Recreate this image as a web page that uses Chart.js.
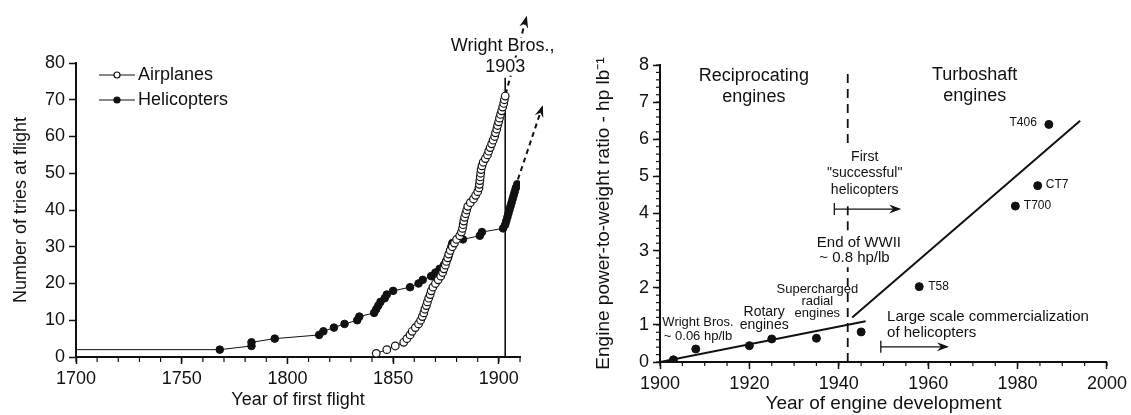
<!DOCTYPE html>
<html>
<head>
<meta charset="utf-8">
<title>Attempts at flight and engine power-to-weight ratio</title>
<script src="https://cdn.jsdelivr.net/npm/chart.js@4.4.1/dist/chart.umd.min.js"></script>
<style>
  html, body { margin: 0; padding: 0; background: #fff; }
  #wrap { position: relative; width: 1131px; height: 415px; }
  #tries { position: absolute; left: 0; top: 0; }
  #engines { position: absolute; left: 560px; top: 0; }
</style>
</head>
<body>
<div id="wrap">
  <canvas id="tries" width="560" height="415"></canvas>
  <canvas id="engines" width="571" height="415"></canvas>
</div>
<script>
const INK = '#111';
const FONT = "'Liberation Sans', Arial, Helvetica, sans-serif";
Chart.defaults.font.family = FONT;
Chart.defaults.color = INK;

// --- left panel: cumulative tries at flight ---
const planeYears = [1842, 1847, 1851, 1855, 1856.5, 1858, 1859, 1860.5, 1862, 1863,
  1863.8, 1864.5, 1865, 1865.7, 1866.2, 1866.8, 1867.5, 1868, 1868.8, 1870,
  1871.3, 1872.5, 1873.4, 1874, 1874.7, 1875.2, 1875.8, 1876.3, 1877, 1878,
  1879, 1880, 1881.5, 1882.3, 1882.8, 1883.1, 1883.4, 1883.8, 1884.3, 1884.8,
  1885.3, 1886.5, 1888, 1889, 1890, 1890.6, 1890.8, 1891, 1891.2, 1891.4,
  1891.6, 1892, 1892.6, 1893.6, 1894.6, 1895.2, 1895.9, 1896.6, 1897.3, 1898,
  1898.4, 1899, 1899.4, 1899.9, 1900.3, 1900.8, 1901.3, 1901.8, 1902.3, 1902.6, 1903];
const planeTries = [1, 2, 3, 4, 5, 6, 7, 8, 9, 10,
  11, 12, 13, 14, 15, 16, 17, 18, 19, 20,
  21, 22, 23, 24, 25, 26, 27, 28, 29, 30,
  31, 32, 33, 34, 35, 36, 37, 38, 39, 40,
  41, 42, 43, 44, 45, 46, 47, 48, 49, 50,
  51, 52, 53, 54, 55, 56, 57, 58, 59, 60,
  61, 62, 63, 64, 65, 66, 67, 68, 69, 70, 71];
const heliYears = [1700, 1768, 1783, 1783, 1794, 1815, 1817, 1822, 1827, 1833,
  1834, 1841, 1842, 1843, 1844, 1846, 1847, 1850, 1858, 1862,
  1864, 1868, 1870, 1872, 1874, 1875, 1876, 1876.5, 1877, 1877.5,
  1878, 1883, 1891, 1892, 1902, 1903, 1903.5, 1904, 1904.5, 1905,
  1905.5, 1906, 1906.5, 1907, 1907.5, 1908, 1908.7];
const heliTries = [2, 2, 3, 4, 5, 6, 7, 8, 9, 10,
  11, 12, 13, 14, 15, 16, 17, 18, 19, 20,
  21, 22, 23, 24, 25, 26, 27, 28, 29, 30,
  31, 32, 33, 34, 35, 36, 37, 38, 39, 40,
  41, 42, 43, 44, 45, 46, 47];
const planeTrendYears = [1903.2, 1913];
const planeTrendTries = [71.5, 92.3];
const heliTrendYears = [1909, 1920.5];
const heliTrendTries = [48.3, 68];
const wrightYears = [1903, 1903];
const wrightTries = [0, 76];
const flightYearLabels = [1700, 1750, 1800, 1850, 1900];
const triesLabels = [0, 10, 20, 30, 40, 50, 60, 70, 80];

// --- right panel: engine power-to-weight ratio ---
const engineYears = [1903, 1908, 1920, 1925, 1935, 1945, 1958, 1979.5, 1984.5, 1987];
const engineRatio = [0.06, 0.35, 0.44, 0.62, 0.64, 0.81, 2.03, 4.2, 4.75, 6.4];
const pistonFitYears = [1900, 1946];
const pistonFitRatio = [0, 1.1];
const turbineFitYears = [1943, 1994];
const turbineFitRatio = [1.2, 6.5];
const wwiiYears = [1942, 1942, null, 1942, 1942, null, 1942, 1942];
const wwiiRatio = [0, 2.55, null, 3.55, 4.35, null, 5.9, 7.9];
const firstHeliYears = [1939, 1953.5];
const firstHeliRatio = [4.12, 4.12];
const commercialYears = [1949.4, 1964.2];
const commercialRatio = [0.41, 0.41];
const devYearLabels = [1900, 1920, 1940, 1960, 1980, 2000];
const ratioLabels = [0, 1, 2, 3, 4, 5, 6, 7, 8];

const pts = (xs, ys) => xs.map((x, i) => ({ x: x === null ? 1942 : x, y: ys[i] }));

// small unlabeled ticks between the labelled ones
const minorTicks = {
  id: 'minorTicks',
  afterDraw(chart, args, opts) {
    const { ctx } = chart;
    ctx.save();
    ctx.strokeStyle = INK;
    ctx.lineWidth = 1.2;
    for (const id of ['x', 'y']) {
      const step = opts[id];
      if (!step) continue;
      const s = chart.scales[id];
      const n = Math.round((s.max - s.min) / step);
      for (let i = 0; i <= n; i++) {
        const p = s.getPixelForValue(s.min + i * step);
        ctx.beginPath();
        if (id === 'x') { ctx.moveTo(p, s.top); ctx.lineTo(p, s.top + opts.len); }
        else { ctx.moveTo(s.right, p); ctx.lineTo(s.right - opts.len, p); }
        ctx.stroke();
      }
    }
    ctx.restore();
  }
};

const arrowHeads = {
  id: 'arrowHeads',
  afterDatasetsDraw(chart) {
    const { ctx } = chart;
    chart.data.datasets.forEach((ds, i) => {
      if (!ds.arrow) return;
      const el = chart.getDatasetMeta(i).data;
      const a = el[el.length - 2], b = el[el.length - 1];
      const ang = Math.atan2(b.y - a.y, b.x - a.x);
      ctx.save();
      ctx.translate(b.x, b.y);
      ctx.rotate(ang);
      ctx.fillStyle = INK;
      ctx.beginPath();
      ctx.moveTo(2, 0); ctx.lineTo(-10, -4.5); ctx.lineTo(-6, 0); ctx.lineTo(-10, 4.5);
      ctx.closePath();
      ctx.fill();
      ctx.restore();
    });
  }
};

const notes = {
  id: 'notes',
  afterDatasetsDraw(chart, args, opts) {
    const { ctx, scales: { x, y } } = chart;
    ctx.save();
    ctx.textBaseline = 'middle';
    for (const n of opts.items || []) {
      const px = x.getPixelForValue(n.x), py = y.getPixelForValue(n.y);
      ctx.font = `${n.size}px ${FONT}`;
      ctx.textAlign = n.align || 'center';
      if (n.mask) {
        const w = ctx.measureText(n.t).width;
        const left = n.align === 'left' ? px : n.align === 'right' ? px - w : px - w / 2;
        ctx.fillStyle = '#fff';
        ctx.fillRect(left - 2, py - n.size * 0.5, w + 4, n.size * 1.0);
      }
      ctx.fillStyle = INK;
      ctx.fillText(n.t, px, py);
    }
    ctx.restore();
  }
};

const triesLegend = {
  id: 'triesLegend',
  afterDraw(chart) {
    const { ctx, chartArea: a } = chart;
    [0, 1].forEach(i => {
      const ds = chart.data.datasets[i];
      const y = a.top + 12 + i * 25;
      ctx.save();
      ctx.strokeStyle = INK;
      ctx.lineWidth = 1;
      ctx.beginPath(); ctx.moveTo(a.left + 23, y); ctx.lineTo(a.left + 59, y); ctx.stroke();
      ctx.beginPath(); ctx.arc(a.left + 41, y, 3, 0, Math.PI * 2);
      ctx.fillStyle = ds.pointBackgroundColor; ctx.fill();
      ctx.lineWidth = 1.2; ctx.stroke();
      ctx.font = `18px ${FONT}`;
      ctx.fillStyle = INK; ctx.textAlign = 'left'; ctx.textBaseline = 'middle';
      ctx.fillText(ds.label, a.left + 62, y);
      ctx.restore();
    });
  }
};

const axisCommon = {
  ticks: { font: { size: 18 }, padding: 4, maxRotation: 0, autoSkip: false, callback: v => String(v) },
  grid: { drawOnChartArea: false, tickLength: 7, tickWidth: 1.5, tickColor: INK },
  border: { color: INK, width: 2 }
};

new Chart(document.getElementById('tries'), {
  type: 'scatter',
  data: {
    datasets: [
      { label: 'Airplanes', data: pts(planeYears, planeTries), showLine: true,
        borderColor: INK, borderWidth: 1, pointRadius: 3.8, pointBorderWidth: 1.2,
        pointBorderColor: INK, pointBackgroundColor: '#fff' },
      { label: 'Helicopters', data: pts(heliYears, heliTries), showLine: true,
        borderColor: INK, borderWidth: 1, pointRadius: c => c.dataIndex === 0 ? 0 : 3.8,
        pointBorderWidth: 1, pointBorderColor: INK, pointBackgroundColor: INK },
      { data: pts(wrightYears, wrightTries), showLine: true, borderColor: INK, borderWidth: 1.6, pointRadius: 0 },
      { data: pts(planeTrendYears, planeTrendTries), showLine: true, arrow: true, clip: false,
        borderColor: INK, borderWidth: 2, borderDash: [5, 4], pointRadius: 0 },
      { data: pts(heliTrendYears, heliTrendTries), showLine: true, arrow: true, clip: false,
        borderColor: INK, borderWidth: 2, borderDash: [5, 4], pointRadius: 0 }
    ]
  },
  options: {
    responsive: false, animation: false,
    layout: { padding: { top: 63, right: 40, left: 10, bottom: 4 } },
    plugins: {
      legend: { display: false }, tooltip: { enabled: false },
      minorTicks: { x: 10, len: 5 },
      notes: { items: [
        { t: 'Wright Bros.,', x: 1901.8, y: 84.5, size: 18, mask: true },
        { t: '1903', x: 1903, y: 79, size: 18, mask: true }
      ] }
    },
    scales: {
      x: { ...axisCommon, type: 'linear', min: 1700, max: 1910,
        afterBuildTicks: s => { s.ticks = flightYearLabels.map(v => ({ value: v })); },
        afterFit: s => { s.height = 54; },
        title: { display: true, text: 'Year of first flight', font: { size: 18 }, padding: 0 } },
      y: { ...axisCommon, min: 0, max: 80,
        afterBuildTicks: s => { s.ticks = triesLabels.map(v => ({ value: v })); },
        afterFit: s => { s.width = 66; },
        title: { display: true, text: 'Number of tries at flight', font: { size: 18 }, padding: 0 } }
    }
  },
  plugins: [minorTicks, arrowHeads, notes, triesLegend]
});

new Chart(document.getElementById('engines'), {
  type: 'scatter',
  data: {
    datasets: [
      { data: pts(engineYears, engineRatio), pointRadius: 4, pointBackgroundColor: INK, pointBorderColor: INK },
      { data: pts(pistonFitYears, pistonFitRatio), showLine: true, borderColor: INK, borderWidth: 2, pointRadius: 0 },
      { data: pts(turbineFitYears, turbineFitRatio), showLine: true, borderColor: INK, borderWidth: 2, pointRadius: 0 },
      { data: pts(wwiiYears, wwiiRatio), showLine: true, spanGaps: false, borderColor: INK, borderWidth: 1.8,
        borderDash: [9, 6], pointRadius: 0 },
      { data: pts(firstHeliYears, firstHeliRatio), showLine: true, arrow: true, borderColor: INK, borderWidth: 1.3,
        pointStyle: 'line', pointRotation: 90, pointRadius: c => c.dataIndex === 0 ? 6 : 0,
        pointBorderWidth: 1.3, pointBorderColor: INK },
      { data: pts(commercialYears, commercialRatio), showLine: true, arrow: true, borderColor: INK, borderWidth: 1.3,
        pointStyle: 'line', pointRotation: 90, pointRadius: c => c.dataIndex === 0 ? 6 : 0,
        pointBorderWidth: 1.3, pointBorderColor: INK }
    ]
  },
  options: {
    responsive: false, animation: false,
    layout: { padding: { top: 65, right: 19, left: 32, bottom: 0 } },
    plugins: {
      legend: { display: false }, tooltip: { enabled: false },
      minorTicks: { x: 5, y: 0.2, len: 4 },
      notes: { items: [
        { t: 'Reciprocating', x: 1921, y: 7.71, size: 18 },
        { t: 'engines', x: 1921, y: 7.14, size: 18 },
        { t: 'Turboshaft', x: 1970.4, y: 7.74, size: 18 },
        { t: 'engines', x: 1970.4, y: 7.17, size: 18 },
        { t: 'First', x: 1945.8, y: 5.53, size: 14 },
        { t: '"successful"', x: 1945.8, y: 5.09, size: 14 },
        { t: 'helicopters', x: 1945.8, y: 4.64, size: 14 },
        { t: 'End of WWII', x: 1944.5, y: 3.21, size: 15 },
        { t: '~ 0.8 hp/lb', x: 1943.5, y: 2.8, size: 15 },
        { t: 'Supercharged', x: 1935.2, y: 1.96, size: 13 },
        { t: 'radial', x: 1935.2, y: 1.63, size: 13 },
        { t: 'engines', x: 1935.2, y: 1.31, size: 13 },
        { t: 'Rotary', x: 1923.3, y: 1.33, size: 14 },
        { t: 'engines', x: 1923.3, y: 0.99, size: 14 },
        { t: 'Wright Bros.', x: 1908.5, y: 1.06, size: 13 },
        { t: '~ 0.06 hp/lb', x: 1908.5, y: 0.69, size: 13 },
        { t: 'Large scale commercialization', x: 1950.8, y: 1.22, size: 15, align: 'left' },
        { t: 'of helicopters', x: 1950.8, y: 0.78, size: 15, align: 'left' },
        { t: 'T406', x: 1984.3, y: 6.45, size: 12, align: 'right' },
        { t: 'CT7', x: 1986.3, y: 4.77, size: 12, align: 'left' },
        { t: 'T700', x: 1981.4, y: 4.2, size: 12, align: 'left' },
        { t: 'T58', x: 1960, y: 2.03, size: 12, align: 'left' }
      ] }
    },
    scales: {
      x: { ...axisCommon, type: 'linear', min: 1900, max: 2000,
        afterBuildTicks: s => { s.ticks = devYearLabels.map(v => ({ value: v })); },
        afterFit: s => { s.height = 53; },
        title: { display: true, text: 'Year of engine development', font: { size: 19 }, padding: 0 } },
      y: { ...axisCommon, min: 0, max: 8,
        afterBuildTicks: s => { s.ticks = ratioLabels.map(v => ({ value: v })); },
        afterFit: s => { s.width = 68; },
        title: { display: true, text: 'Engine power-to-weight ratio - hp lb⁻¹', font: { size: 19 }, padding: 0 } }
    }
  },
  plugins: [minorTicks, arrowHeads, notes]
});
</script>
</body>
</html>
